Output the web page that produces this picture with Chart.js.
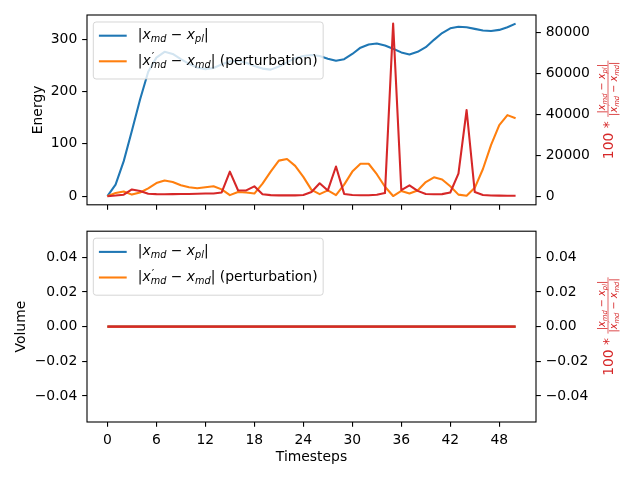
<!DOCTYPE html>
<html>
<head>
<meta charset="utf-8">
<script src="https://cdn.jsdelivr.net/npm/chart.js@4.4.1/dist/chart.umd.min.js"></script>
<style>
  html, body { margin: 0; padding: 0; background: #fff; }
  #wrap { position: relative; width: 640px; height: 480px; }
  canvas { position: absolute; left: 0; }
</style>
</head>
<body>
<div id="wrap">
  <canvas id="energyChart" width="640" height="218" style="top:0"></canvas>
  <canvas id="volumeChart" width="640" height="262" style="top:218px"></canvas>
</div>
<script>
// data
const timesteps = [0, 1, 2, 3, 4, 5, 6, 7, 8, 9, 10, 11, 12, 13, 14, 15, 16, 17, 18, 19, 20,
  21, 22, 23, 24, 25, 26, 27, 28, 29, 30, 31, 32, 33, 34, 35, 36, 37, 38, 39, 40,
  41, 42, 43, 44, 45, 46, 47, 48, 49, 50];

const energyDiff = [0, 22, 67, 125, 185, 238, 265, 276, 272, 262, 253, 246, 243, 245, 252, 258, 259,
  255, 249, 244, 242, 248, 256, 264, 268, 270, 268, 263, 259, 262, 272, 284, 290, 292, 288, 282,
  275, 271, 276, 285, 299, 312, 321, 324, 323, 320, 317, 316, 318, 323, 330];
const energyPert = [0, 6, 9, 3, 7, 15, 25, 30, 27, 21, 17, 15, 17, 19, 13, 2, 8, 7, 5, 24, 47,
  68, 71, 58, 37, 12, 4, 11, 2, 22, 47, 62, 62, 42, 18, 0.3, 10, 5, 11, 27, 36, 32, 19, 3, 0.8,
  16, 52, 98, 136, 155, 149];
const energyRatio = [0, 300, 700, 3300, 2500, 1200, 1000, 900, 1000, 1100, 1100, 1200, 1300, 1300,
  1800, 12000, 2900, 2800, 4800, 900, 500, 400, 400, 400, 600, 2000, 6300, 2800, 14500, 1100,
  600, 450, 450, 700, 1500, 84300, 3000, 5300, 2600, 1100, 900, 1000, 1800, 11000, 42100, 2000,
  600, 350, 250, 200, 200];

const volumeDiff = [0, 0, 0, 0, 0, 0, 0, 0, 0, 0, 0, 0, 0, 0, 0, 0, 0, 0, 0, 0, 0, 0, 0, 0, 0, 0,
  0, 0, 0, 0, 0, 0, 0, 0, 0, 0, 0, 0, 0, 0, 0, 0, 0, 0, 0, 0, 0, 0, 0, 0, 0];
const volumePert = [0, 0, 0, 0, 0, 0, 0, 0, 0, 0, 0, 0, 0, 0, 0, 0, 0, 0, 0, 0, 0, 0, 0, 0, 0, 0,
  0, 0, 0, 0, 0, 0, 0, 0, 0, 0, 0, 0, 0, 0, 0, 0, 0, 0, 0, 0, 0, 0, 0, 0, 0];
const volumeRatio = [0, 0, 0, 0, 0, 0, 0, 0, 0, 0, 0, 0, 0, 0, 0, 0, 0, 0, 0, 0, 0, 0, 0, 0, 0, 0,
  0, 0, 0, 0, 0, 0, 0, 0, 0, 0, 0, 0, 0, 0, 0, 0, 0, 0, 0, 0, 0, 0, 0, 0, 0];

const xTicks = [0, 6, 12, 18, 24, 30, 36, 42, 48];
const energyTicks = [0, 100, 200, 300];
const energyRatioTicks = [0, 20000, 40000, 60000, 80000];
const volumeTicks = [-0.04, -0.02, 0, 0.02, 0.04];

// math-ish labels: pieces of text with italic / sub / sup flags
const diffLabel = [{t: '|'}, {t: 'x', it: 1}, {t: 'md', it: 1, sub: 1}, {t: ' − '},
  {t: 'x', it: 1}, {t: 'pl', it: 1, sub: 1}, {t: '|'}];
const pertMath = [{t: '|'}, {t: 'x', it: 1}, {t: '′', sup: 1, hold: 1}, {t: 'md', it: 1, sub: 1},
  {t: ' − '}, {t: 'x', it: 1}, {t: 'md', it: 1, sub: 1}, {t: '|'}];
const pertLabel = pertMath.concat([{t: ' (perturbation)'}]);

const BLUE = '#1f77b4', ORANGE = '#ff7f0e', RED = '#d62728';
const FS = 13.9;

Chart.defaults.font.family = '"DejaVu Sans"';
Chart.defaults.font.size = FS;
Chart.defaults.color = '#000';

function drawMath(ctx, parts, x, y, size, color) {
    let cx = x;
    ctx.save();
    if (color) ctx.fillStyle = color;
    ctx.textBaseline = 'alphabetic';
    ctx.textAlign = 'left';
    for (const p of parts) {
        const sz = p.sup ? size * 0.8 : p.sub ? size * 0.7 : size;
        ctx.font = `${p.it ? 'italic ' : ''}${sz}px "DejaVu Sans"`;
        const dy = p.sub ? size * 0.22 : p.sup ? -size * 0.3 : 0;
        const dx = p.sup ? size * 0.08 : 0;
        if (color) ctx.fillText(p.t, cx + dx, y + dy);
        if (!p.hold) cx += ctx.measureText(p.t).width;
    }
    ctx.restore();
    return cx - x;
}

const framePlugin = {
    id: 'frame',
    afterDraw(chart) {
        const a = chart.chartArea, ctx = chart.ctx;
        ctx.save();
        ctx.strokeStyle = '#000';
        ctx.lineWidth = 1.1;
        ctx.strokeRect(a.left, a.top, a.right - a.left, a.bottom - a.top);
        ctx.restore();
    }
};

const legendPlugin = {
    id: 'mplLegend',
    afterDraw(chart) {
        const ctx = chart.ctx, a = chart.chartArea;
        const labels = [diffLabel, pertLabel];
        const x0 = a.left + 6.3, y0 = a.top + 7;
        const textW = Math.max(...labels.map(l => drawMath(ctx, l, 0, 0, FS, null)));
        const w = 5.6 + 27.8 + 11.1 + textW + 5.6, h = 57, r = 2.8;
        ctx.save();
        ctx.beginPath();
        ctx.roundRect(x0, y0, w, h, r);
        ctx.fillStyle = 'rgba(255,255,255,0.8)';
        ctx.fill();
        ctx.strokeStyle = 'rgba(204,204,204,0.8)';
        ctx.lineWidth = 1;
        ctx.stroke();
        labels.forEach((l, i) => {
            const cy = y0 + 13.7 + i * 25.6;
            ctx.strokeStyle = chart.data.datasets[i + 1].borderColor;
            ctx.lineWidth = 2.08;
            ctx.beginPath();
            ctx.moveTo(x0 + 5.6, cy);
            ctx.lineTo(x0 + 33.4, cy);
            ctx.stroke();
            drawMath(ctx, l, x0 + 44.5, cy + 3.3, FS, '#000');
        });
        ctx.restore();
    }
};

// right axis label: 100 * |x_md - x_pl| / |x'_md - x_md|, rotated
const ratioLabelPlugin = {
    id: 'ratioLabel',
    afterDraw(chart) {
        const ctx = chart.ctx, a = chart.chartArea;
        const small = FS * 0.7;
        ctx.save();
        ctx.translate(a.right + 72, (a.top + a.bottom) / 2);
        ctx.rotate(-Math.PI / 2);
        ctx.font = `${FS}px "DejaVu Sans"`;
        const pre = '100 * ';
        const preW = ctx.measureText(pre).width;
        const numW = drawMath(ctx, diffLabel, 0, 0, small, null);
        const denW = drawMath(ctx, pertMath, 0, 0, small, null);
        const fracW = Math.max(numW, denW) + 2;
        const start = -(preW + fracW) / 2;
        ctx.fillStyle = RED;
        ctx.textBaseline = 'alphabetic';
        ctx.fillText(pre, start, 5);
        const fx = start + preW;
        ctx.fillRect(fx, -0.35, fracW, 0.7);
        drawMath(ctx, diffLabel, fx + (fracW - numW) / 2, -3.5, small, RED);
        drawMath(ctx, pertMath, fx + (fracW - denW) / 2, 8.5, small, RED);
        ctx.restore();
    }
};

const toPoints = vals => timesteps.map((t, i) => ({x: t, y: vals[i]}));

function lineSet(vals, color, axis, order) {
    return {
        data: toPoints(vals), borderColor: color, backgroundColor: color, yAxisID: axis,
        borderWidth: 2.08, pointRadius: 0, tension: 0, borderJoinStyle: 'round', order
    };
}

const tickGrid = {drawOnChartArea: false, drawTicks: true, tickLength: 4.86, color: '#000', lineWidth: 1.1};

function yAxis(position, width, ticks, min, max, fmt, title) {
    return {
        type: 'linear', position, min, max,
        afterFit: s => { s.width = width; },
        afterBuildTicks: s => { s.ticks = ticks.map(v => ({value: v})); },
        ticks: {callback: fmt, padding: 4.86, color: '#000'},
        grid: tickGrid,
        border: {display: false},
        title
    };
}

function xAxis(height, showLabels, title) {
    return {
        type: 'linear', min: -2.5, max: 52.5,
        afterFit: s => { s.height = height; },
        afterBuildTicks: s => { s.ticks = xTicks.map(v => ({value: v})); },
        ticks: {display: showLabels, callback: v => String(v), padding: 4.86, autoSkip: false, maxRotation: 0, color: '#000'},
        grid: tickGrid,
        border: {display: false},
        title
    };
}

const volFmt = v => (Math.abs(v) < 1e-9 ? 0 : v).toFixed(2).replace('-', '−');

const commonOpts = {
    responsive: false, animation: false, events: [],
    plugins: {legend: {display: false}, tooltip: {enabled: false}}
};

new Chart(document.getElementById('energyChart'), {
    type: 'line',
    data: {
        datasets: [
            lineSet(energyRatio, RED, 'y1', 0),
            lineSet(energyDiff, BLUE, 'y', 2),
            lineSet(energyPert, ORANGE, 'y', 1)
        ]
    },
    options: {
        ...commonOpts,
        layout: {padding: {top: 15, left: 0, right: 0, bottom: 0}},
        scales: {
            x: xAxis(10, false, {display: false}),
            y: yAxis('left', 87, energyTicks, -16.5, 346.5, v => String(v),
                {display: true, text: 'Energy', color: '#000', padding: {top: 29.7, bottom: 0}}),
            y1: yAxis('right', 104, energyRatioTicks, -4215, 88515, v => String(v), {display: false})
        }
    },
    plugins: [framePlugin, legendPlugin, ratioLabelPlugin]
});

new Chart(document.getElementById('volumeChart'), {
    type: 'line',
    data: {
        datasets: [
            lineSet(volumeRatio, RED, 'y1', 0),
            lineSet(volumeDiff, BLUE, 'y', 2),
            lineSet(volumePert, ORANGE, 'y', 1)
        ]
    },
    options: {
        ...commonOpts,
        layout: {padding: {top: 9, left: 0, right: 0, bottom: 0}},
        scales: {
            x: xAxis(58, true, {display: true, text: 'Timesteps', color: '#000', padding: {top: 0, bottom: 14.7}}),
            y: yAxis('left', 87, volumeTicks, -0.055, 0.055, volFmt,
                {display: true, text: 'Volume', color: '#000', padding: {top: 12.7, bottom: 0}}),
            y1: yAxis('right', 104, volumeTicks, -0.055, 0.055, volFmt, {display: false})
        }
    },
    plugins: [framePlugin, legendPlugin, ratioLabelPlugin]
});
</script>
</body>
</html>
